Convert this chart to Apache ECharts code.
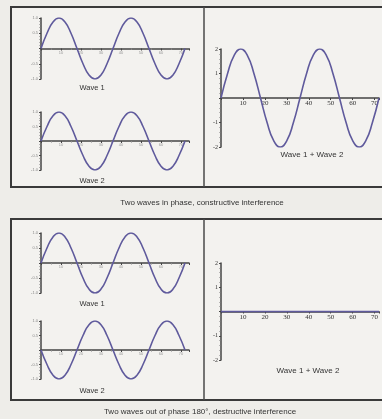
<!DOCTYPE html>
<html>
<head>
<meta charset="utf-8">
<script src="https://cdn.jsdelivr.net/npm/echarts@6/dist/echarts.min.js"></script>
<style>
  html, body { margin: 0; padding: 0; background: #eeede9; }
  #chart { width: 382px; height: 419px; }
</style>
</head>
<body>
<div id="chart"></div>
<script>
// Phase, in tens of degrees (0..720 degrees over two cycles)
const phase = [0, 3, 6, 9, 12, 15, 18, 21, 24, 27, 30, 33, 36,
               39, 42, 45, 48, 51, 54, 57, 60, 63, 66, 69, 72];

// Single-wave amplitudes
const waveA = [0, 0.5, 0.87, 1, 0.87, 0.5, 0, -0.5, -0.87, -1, -0.87, -0.5, 0,
               0.5, 0.87, 1, 0.87, 0.5, 0, -0.5, -0.87, -1, -0.87, -0.5, 0];
const waveInverted = [0, -0.5, -0.87, -1, -0.87, -0.5, 0, 0.5, 0.87, 1, 0.87, 0.5, 0,
               -0.5, -0.87, -1, -0.87, -0.5, 0, 0.5, 0.87, 1, 0.87, 0.5, 0];

// Sums of the two waves
const sumInPhase = [0, 1, 1.74, 2, 1.74, 1, 0, -1, -1.74, -2, -1.74, -1, 0,
               1, 1.74, 2, 1.74, 1, 0, -1, -1.74, -2, -1.74, -1, 0];
const sumOutOfPhase = [0, 0, 0, 0, 0, 0, 0, 0, 0, 0, 0, 0, 0,
               0, 0, 0, 0, 0, 0, 0, 0, 0, 0, 0, 0];

// Axis tick labels
const smallXTicks = [10, 20, 30, 40, 50, 60, 70];
const smallYTicks = ['-1.0', '-0.5', '', '0.5', '1.0'];
const sumYTicks = ['-2', '-1', '', '1', '2'];

const captionTop = 'Two waves in phase, constructive interference';
const captionBottom = 'Two waves out of phase 180°, destructive interference';

const WAVE_COLOR = '#5f5a9c';
const AXIS_COLOR = '#444';
const FONT = 'Liberation Sans, Arial, sans-serif';

const pairs = ys => phase.map((x, i) => [x, ys[i]]);

// One grid per small plot; the x axis is lifted to the middle (zero) line
const panels = [
  { grid: { left: 41, top: 18, width: 148, height: 61 }, ymax: 1, xmax: 74, data: waveA, small: true },
  { grid: { left: 41, top: 112, width: 148, height: 58 }, ymax: 1, xmax: 74, data: waveA, small: true },
  { grid: { left: 221, top: 49, width: 159, height: 98 }, ymax: 2, xmax: 72, data: sumInPhase, small: false },
  { grid: { left: 41, top: 233, width: 148, height: 60 }, ymax: 1, xmax: 74, data: waveA, small: true },
  { grid: { left: 41, top: 321, width: 148, height: 58 }, ymax: 1, xmax: 74, data: waveInverted, small: true },
  { grid: { left: 221, top: 263, width: 159, height: 97 }, ymax: 2, xmax: 72, data: sumOutOfPhase, small: false }
];

const grids = [], xAxes = [], yAxes = [], series = [];
panels.forEach((p, i) => {
  grids.push(Object.assign({ containLabel: false }, p.grid));
  xAxes.push({
    type: 'value', gridIndex: i, min: 0, max: p.xmax, interval: 10,
    position: 'bottom', offset: -p.grid.height / 2,
    axisLine: { onZero: false, lineStyle: { color: AXIS_COLOR, width: 1.5 } },
    axisTick: { show: true, length: 2, lineStyle: { color: AXIS_COLOR } },
    minorTick: { show: p.small, splitNumber: 2, length: 1.5, lineStyle: { color: '#888' } },
    splitLine: { show: false },
    axisLabel: {
      fontSize: p.small ? 4 : 7, color: p.small ? '#999' : '#333',
      fontFamily: p.small ? FONT : 'Liberation Serif, Times New Roman, serif', margin: 2,
      formatter: v => smallXTicks.indexOf(v) >= 0 ? String(v) : ''
    }
  });
  const ticks = p.small ? smallYTicks : sumYTicks;
  yAxes.push({
    type: 'value', gridIndex: i, min: -p.ymax, max: p.ymax, interval: p.ymax / 2,
    axisLine: { show: true, onZero: false, lineStyle: { color: AXIS_COLOR, width: 1.5 } },
    axisTick: { show: true, length: 2, lineStyle: { color: AXIS_COLOR } },
    minorTick: { show: true, splitNumber: 5, length: 1.5, lineStyle: { color: '#777' } },
    splitLine: { show: false },
    axisLabel: {
      fontSize: p.small ? 4 : 6, color: p.small ? '#888' : '#333',
      fontFamily: p.small ? FONT : 'Liberation Serif, Times New Roman, serif', margin: 3,
      formatter: v => ticks[Math.round((v + p.ymax) / (p.ymax / 2))]
    }
  });
  series.push({
    type: 'line', xAxisIndex: i, yAxisIndex: i, data: pairs(p.data),
    smooth: 0.5, showSymbol: false, silent: true,
    lineStyle: { color: WAVE_COLOR, width: 1.6 }
  });
});

const label = (x, y, s, size) => ({
  type: 'text', x: x, y: y,
  style: { text: s, fill: '#333', font: size + 'px ' + FONT, textAlign: 'center', textVerticalAlign: 'middle' }
});

const frame = (x, y, w, h) => ({
  type: 'rect', shape: { x: x, y: y, width: w, height: h }, z: -1,
  style: { fill: '#f3f2ef', stroke: '#3a3a3a', lineWidth: 2 }
});
const divider = (x, y1, y2) => ({
  type: 'line', shape: { x1: x, y1: y1, x2: x, y2: y2 },
  style: { stroke: '#4a4a4a', lineWidth: 1.5 }
});

const graphics = [
  frame(11, 7, 380, 180),
  divider(204, 7, 187),
  frame(11, 219, 380, 181),
  divider(204, 219, 400),
  label(92, 88, 'Wave 1', 7.5),
  label(92, 181, 'Wave 2', 7.5),
  label(312, 155, 'Wave 1 + Wave 2', 8),
  label(92, 304, 'Wave 1', 7.5),
  label(92, 391, 'Wave 2', 7.5),
  label(308, 371, 'Wave 1 + Wave 2', 8),
  label(202, 203, captionTop, 8),
  label(200, 412, captionBottom, 8)
];

const chart = echarts.init(document.getElementById('chart'), null, { renderer: 'canvas' });
chart.setOption({
  backgroundColor: '#eeede9',
  animation: false,
  grid: grids,
  xAxis: xAxes,
  yAxis: yAxes,
  series: series,
  graphic: graphics
});
</script>
</body>
</html>
